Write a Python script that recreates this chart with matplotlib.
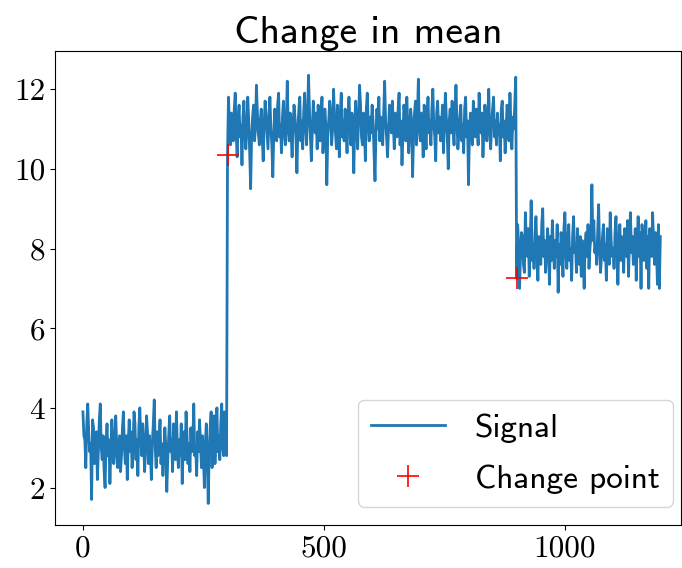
import numpy as np
import matplotlib
matplotlib.use("Agg")
import matplotlib.pyplot as plt

# signal, one value every 2 samples
seg_low = [3.9, 3.3, 3.2, 2.5, 3.6, 4.1, 3.4, 2.9, 3.1, 1.7, 3.7, 3.5, 2.6, 3.0, 3.4, 2.2, 2.9, 3.7, 4.1, 3.0,
           2.7, 3.3, 2.4, 2.0, 3.1, 3.6, 2.8, 3.2, 2.1, 3.0, 3.7, 3.3, 2.6, 2.9, 3.8, 3.1, 2.5, 2.9, 3.3, 2.4,
           2.8, 3.5, 3.9, 3.0, 2.6, 3.3, 2.2, 3.1, 3.7, 2.9, 3.4, 2.5, 3.0, 3.9, 3.6, 2.7, 3.2, 2.3, 3.5, 4.0,
           3.3, 2.8, 3.6, 3.1, 2.4, 3.0, 3.8, 3.4, 2.6, 3.3, 2.9, 2.2, 3.1, 3.6, 4.2, 3.0, 2.5, 3.4, 2.8, 3.2,
           3.7, 2.6, 3.1, 2.3, 2.9, 3.5, 3.0, 1.9, 2.7, 3.3, 3.8, 2.9, 3.2, 2.4, 3.6, 3.1, 2.7, 3.9, 3.0, 2.5,
           3.2, 2.8, 3.6, 2.1, 3.0, 3.4, 2.7, 3.9, 3.3, 2.6, 3.1, 2.4, 3.5, 2.9, 3.2, 4.1, 2.8, 3.0, 2.3, 3.4,
           2.9, 3.7, 3.1, 2.5, 3.3, 2.8, 2.0, 3.1, 3.6, 2.7, 1.6, 2.9, 3.5, 3.9, 2.5, 3.2, 3.8, 2.6, 3.4, 4.0,
           2.9, 3.3, 2.7, 3.6, 4.1, 3.0, 2.8, 3.9, 3.2, 2.8]
seg_high = [10.35, 11.8, 11.1, 10.6, 11.4, 11.0, 10.7, 11.5, 11.9, 10.9, 10.3, 11.2, 11.6, 10.8, 11.1, 10.1, 11.3, 11.7, 10.9, 10.5,
            11.0, 11.8, 11.2, 10.4, 9.5, 10.8, 11.3, 11.6, 10.7, 11.0, 12.1, 11.4, 10.9, 10.6, 11.2, 11.5, 10.8, 10.2, 11.1, 11.7,
            11.3, 10.9, 10.5, 11.4, 11.8, 11.0, 10.6, 9.8, 10.9, 11.5, 11.2, 10.7, 11.6, 11.9, 10.8, 11.1, 10.4, 11.3, 11.7, 10.9,
            10.6, 11.2, 12.2, 11.0, 10.7, 11.4, 10.9, 10.3, 11.1, 11.6, 11.3, 10.8, 9.9, 11.0, 11.5, 11.8, 10.7, 11.2, 10.5, 11.4,
            11.9, 11.1, 10.6, 11.3, 12.35, 11.5, 10.8, 10.2, 11.0, 11.7, 11.2, 10.9, 11.4, 10.5, 11.6, 11.0, 10.7, 11.3, 11.8, 10.4,
            10.9, 11.5, 11.1, 9.6, 10.8, 11.2, 11.7, 11.4, 10.6, 11.0, 12.0, 11.3, 10.9, 10.5, 11.6, 11.1, 10.3, 11.4, 11.9, 10.8,
            11.2, 10.7, 11.5, 11.0, 10.4, 11.3, 11.8, 11.1, 10.6, 11.4, 10.9, 9.9, 11.2, 11.7, 11.0, 10.5, 11.3, 12.1, 11.6, 10.8,
            10.6, 11.4, 11.0, 10.2, 11.5, 11.9, 11.1, 10.7, 11.3, 10.9, 11.6, 11.2, 10.4, 9.7, 10.9, 11.5, 11.0, 11.8, 10.7, 11.3,
            11.1, 10.6, 11.4, 12.2, 11.2, 10.8, 10.3, 11.0, 11.6, 11.3, 10.9, 11.7, 11.1, 10.5, 11.4, 11.0, 10.8, 11.5, 11.9, 10.6,
            11.2, 10.1, 10.9, 11.6, 11.3, 10.7, 11.8, 11.1, 10.4, 11.0, 11.5, 11.2, 9.8, 10.8, 11.4, 11.7, 10.6, 11.3, 12.25, 11.0,
            10.7, 11.4, 11.1, 10.3, 11.6, 11.0, 10.5, 11.3, 11.8, 10.9, 11.2, 10.6, 11.5, 12.0, 11.1, 10.8, 10.2, 11.4, 11.7, 10.9,
            11.3, 10.7, 11.0, 11.6, 10.4, 11.1, 11.9, 11.3, 10.8, 10.0, 11.2, 11.5, 10.9, 11.7, 11.0, 10.6, 11.4, 12.1, 11.2, 10.5,
            10.9, 11.3, 11.6, 10.7, 11.1, 10.4, 11.5, 11.8, 10.8, 11.2, 9.6, 10.9, 11.4, 11.0, 10.6, 11.7, 11.3, 10.8, 11.5, 11.1,
            10.6, 11.9, 11.2, 10.9, 11.4, 10.3, 11.0, 11.6, 11.2, 10.7, 11.3, 12.0, 10.9, 10.5, 11.1, 11.5, 11.8, 10.8, 11.2, 10.6,
            11.4, 10.9, 11.1, 10.2, 11.5, 11.7, 10.8, 11.2, 10.4, 11.0, 11.6, 11.3, 10.7, 11.9, 11.1, 10.5, 11.3, 11.0, 11.6, 12.3]
seg_mid = [7.25, 8.6, 8.1, 7.0, 7.9, 8.4, 8.3, 7.6, 7.4, 8.9, 8.2, 7.8, 8.5, 7.3, 8.0, 9.2, 7.7, 8.1, 7.5, 8.4,
           8.8, 7.9, 7.2, 8.3, 8.0, 7.6, 8.6, 9.0, 7.8, 8.2, 7.4, 7.9, 8.5, 8.1, 7.1, 8.3, 7.7, 8.7, 8.0, 7.5,
           8.2, 7.8, 8.6, 6.9, 8.1, 7.6, 8.4, 8.0, 7.3, 8.5, 8.9, 7.9, 7.5, 8.2, 8.6, 7.7, 8.0, 7.2, 8.3, 8.8,
           7.9, 8.1, 7.4, 8.5, 8.0, 7.6, 8.3, 7.3, 8.2, 7.7, 7.0, 8.1, 8.4, 7.8, 8.6, 7.5, 8.0, 8.3, 9.6, 8.2,
           8.7, 7.9, 8.1, 7.6, 8.4, 9.1, 8.0, 7.4, 7.8, 8.3, 8.6, 7.7, 8.1, 7.2, 8.5, 8.0, 7.6, 8.9, 8.2, 7.8,
           8.0, 7.5, 8.4, 8.8, 7.9, 7.1, 8.2, 8.6, 7.7, 8.3, 8.0, 7.4, 8.5, 8.1, 7.8, 8.7, 7.3, 8.2, 8.9, 7.9,
           8.3, 7.6, 8.0, 8.5, 7.2, 8.1, 8.8, 7.8, 8.4, 7.0, 8.6, 8.2, 7.7, 8.0, 8.7, 7.5, 8.3, 7.0, 8.5, 8.1,
           7.8, 8.9, 8.2, 7.6, 8.4, 8.0, 7.1, 8.6, 7.0, 8.3]
step = 2
change_points = [300, 900]

signal = np.array(seg_low + seg_high + seg_mid)
t = np.arange(len(signal)) * step
cp_vals = [signal[c // step] for c in change_points]

fig = plt.figure(figsize=(6.82, 5.68), dpi=100)
ax = fig.add_axes([0.0806, 0.0757, 0.918, 0.834])

ax.plot(t, signal, color="#1f77b4", lw=2, label="Signal")
ax.plot(change_points, cp_vals, "+", color="red", ms=16, mew=1.2, label="Change point")

ax.set_xlim(-58, 1241)
ax.set_ylim(1.06, 12.95)
ax.set_xticks([0, 500, 1000])
ax.set_yticks([2, 4, 6, 8, 10, 12])
for lab in ax.get_xticklabels() + ax.get_yticklabels():
    lab.set_family("cmr10")
    lab.set_fontsize(22.5)

ax.set_title("Change in mean", family="cmss10", fontsize=28.7, pad=3)
leg = ax.legend(loc="lower right", bbox_to_anchor=(0.987, 0.038), borderaxespad=0,
                prop={"family": "cmss10", "size": 24}, handlelength=2.2,
                handletextpad=0.9, labelspacing=0.65)

fig.savefig("out.png", dpi=100)
